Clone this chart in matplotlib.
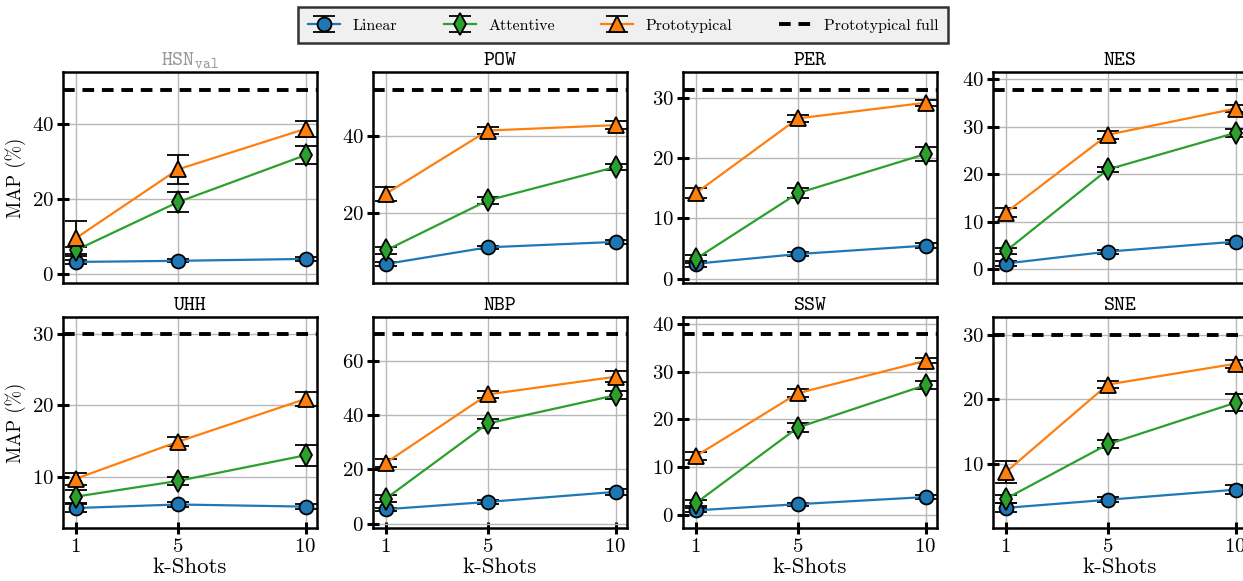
import matplotlib
matplotlib.use("Agg")
import matplotlib.pyplot as plt
import numpy as np

plt.rcParams['font.family'] = ['cmr10', 'DejaVu Serif']
plt.rcParams['mathtext.fontset'] = 'cm'
plt.rcParams['axes.formatter.use_mathtext'] = True

shots = [1, 5, 10]
datasets = ["HSN_val", "POW", "PER", "NES", "UHH", "NBP", "SSW", "SNE"]

linear_mean = {
    "HSN_val": [3.2, 3.5, 4.0], "POW": [6.9, 11.2, 12.6], "PER": [2.5, 4.1, 5.5],
    "NES": [1.2, 3.7, 5.8], "UHH": [5.6, 6.1, 5.8], "NBP": [5.3, 8.0, 11.7],
    "SSW": [0.9, 2.2, 3.7], "SNE": [3.3, 4.55, 6.1],
}
linear_err = {
    "HSN_val": [0.5, 0.4, 0.5], "POW": [0.5, 0.4, 0.5], "PER": [0.5, 0.4, 0.4],
    "NES": [0.5, 0.4, 0.4], "UHH": [0.5, 0.4, 0.4], "NBP": [0.6, 0.6, 1.0],
    "SSW": [0.4, 0.3, 0.4], "SNE": [0.7, 0.4, 0.7],
}
attentive_mean = {
    "HSN_val": [6.3, 19.1, 31.6], "POW": [10.4, 23.3, 31.9], "PER": [3.3, 14.2, 20.7],
    "NES": [3.8, 21.0, 28.7], "UHH": [7.2, 9.4, 13.0], "NBP": [9.2, 36.9, 47.3],
    "SSW": [2.4, 18.3, 27.2], "SNE": [4.7, 13.1, 19.5],
}
attentive_err = {
    "HSN_val": [1.0, 2.7, 2.3], "POW": [1.0, 1.0, 0.7], "PER": [0.6, 0.8, 1.1],
    "NES": [0.6, 0.5, 0.9], "UHH": [0.9, 0.6, 1.5], "NBP": [1.2, 1.5, 1.5],
    "SSW": [0.6, 0.9, 0.9], "SNE": [0.6, 0.6, 1.3],
}
proto_mean = {
    "HSN_val": [9.5, 27.8, 38.6], "POW": [25.0, 41.3, 42.7], "PER": [14.2, 26.6, 29.2],
    "NES": [11.9, 28.3, 33.8], "UHH": [9.7, 14.9, 20.9], "NBP": [22.4, 47.6, 54.1],
    "SSW": [12.3, 25.5, 32.3], "SNE": [8.8, 22.3, 25.5],
}
proto_err = {
    "HSN_val": [4.6, 3.9, 2.1], "POW": [1.8, 1.0, 1.0], "PER": [0.8, 0.6, 0.5],
    "NES": [0.9, 0.8, 0.7], "UHH": [0.8, 0.6, 1.0], "NBP": [1.5, 1.2, 2.0],
    "SSW": [0.8, 0.9, 0.5], "SNE": [1.65, 0.5, 0.6],
}
proto_full = {
    "HSN_val": 48.9, "POW": 51.8, "PER": 31.35, "NES": 37.7,
    "UHH": 30.0, "NBP": 69.8, "SSW": 37.9, "SNE": 30.0,
}
ylims = {
    "HSN_val": (-2.4, 53.7), "POW": (2.0, 56.4), "PER": (-0.7, 34.3), "NES": (-2.9, 41.5),
    "UHH": (2.8, 32.4), "NBP": (-1.6, 76.1), "SSW": (-2.8, 41.5), "SNE": (0.2, 32.7),
}
yticks = {
    "HSN_val": [0, 20, 40], "POW": [20, 40], "PER": [0, 10, 20, 30], "NES": [0, 10, 20, 30, 40],
    "UHH": [10, 20, 30], "NBP": [0, 20, 40, 60], "SSW": [0, 10, 20, 30, 40], "SNE": [10, 20, 30],
}

W, H = 1243, 581
fig = plt.figure(figsize=(W / 100, H / 100), dpi=100)

lefts = [63, 373, 683, 993]
row_tops = [72, 317]
aw, ah = 254, 211

series = [
    ("Linear", linear_mean, linear_err, '#1f77b4', 'o', 10),
    ("Attentive", attentive_mean, attentive_err, '#2ca02c', 'd', 11),
    ("Prototypical", proto_mean, proto_err, '#ff7f0e', '^', 11),
]

handles = []
for i, name in enumerate(datasets):
    r, c = divmod(i, 4)
    ax = fig.add_axes([lefts[c] / W, 1 - (row_tops[r] + ah) / H, aw / W, ah / H])
    hs = []
    for label, mean, err, col, mk, ms in series:
        h = ax.errorbar(shots, mean[name], yerr=err[name], color=col, marker=mk,
                        markersize=ms, markeredgecolor='black', markeredgewidth=1.3,
                        ecolor='black', elinewidth=1.3, capsize=8, capthick=1.3,
                        linewidth=1.6, label=label, zorder=3)
        hs.append(h)
    hl = ax.axhline(proto_full[name], color='black', linestyle='--', linewidth=2.8,
                    dashes=(3, 2), label='Prototypical full', zorder=4)
    hs.append(hl)
    if i == 0:
        handles = hs
    ax.set_xlim(0.5, 10.45)
    ax.set_ylim(*ylims[name])
    ax.set_yticks(yticks[name])
    ax.set_xticks(shots)
    ax.grid(True, color='#b8b8b8', linewidth=1.0)
    ax.set_axisbelow(True)
    for s in ax.spines.values():
        s.set_linewidth(1.8)
    ax.tick_params(axis='y', direction='inout', length=9, width=2.2, labelsize=15, pad=2)
    ax.tick_params(axis='x', direction='inout', length=9, width=2.2, labelsize=15, pad=3)
    if r == 0:
        ax.tick_params(axis='x', length=0, labelbottom=False)
    else:
        ax.set_xlabel("k-Shots", fontsize=16.5, labelpad=1)
    if c == 0:
        ax.set_ylabel("MAP (%)", fontsize=13.5, labelpad=4)
    if name == "HSN_val":
        ax.set_title(r'$\mathtt{HSN}_{\mathtt{val}}$', fontsize=15, color='#999999', pad=5)
    else:
        ax.set_title(name, fontsize=15, family='cmtt10', pad=5)

leg = fig.legend(handles=handles, labels=[h.get_label() for h in handles],
                 loc='upper center', bbox_to_anchor=(623 / W, 1 - 7 / H), ncol=4,
                 fontsize=11.5, frameon=True, fancybox=False, facecolor='#f0f0f0',
                 edgecolor='#333333', framealpha=1, columnspacing=2.9,
                 handlelength=2.0, handleheight=1.0, borderpad=0.65, borderaxespad=0)
leg.get_frame().set_linewidth(1.8)

fig.savefig("out.png", dpi=100)
